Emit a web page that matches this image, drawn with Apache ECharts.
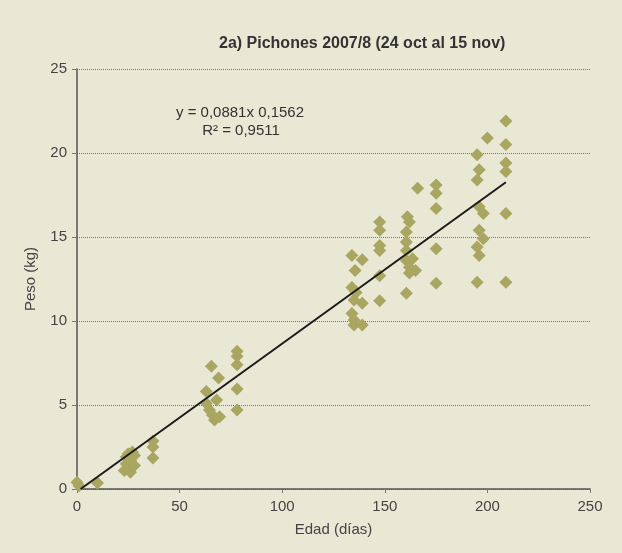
<!DOCTYPE html>
<html>
<head>
<meta charset="utf-8">
<script src="https://cdn.jsdelivr.net/npm/echarts@6/dist/echarts.min.js"></script>
<style>
html,body{margin:0;padding:0;background:#e9e8d5;}
#c{width:622px;height:553px;}
</style>
</head>
<body>
<div id="c"></div>
<script>
const titleText = '2a) Pichones 2007/8 (24 oct al 15 nov)';
const xName = 'Edad (días)';
const yName = 'Peso (kg)';
const eqLine1 = 'y = 0,0881x 0,1562';
const eqLine2 = 'R² = 0,9511';
const xTicks = [0, 50, 100, 150, 200, 250];
const yTicks = [0, 5, 10, 15, 20, 25];

const edad = [0,1,10,
  23,24,24,25,25,26,26,27,28,28,
  37,37,37,
  63,63,64.5,65.5,66,67,68,69,69.5,78,78,78,78,78,
  134,134,134,135,135,135.5,135,136,139,139,139,147.5,147.5,147.5,147.5,147.5,147.5,
  161,162,160.5,160.5,160.5,160.5,162,162,163.5,165,160.5,166,
  175,175,175,175,175,
  195,195,196,196,196,195,196,195,198,198,200,
  209,209,209,209,209,209];
const peso = [0.4,0.2,0.35,
  1.1,1.5,1.9,1.3,2.1,1.0,1.7,2.2,1.4,2.0,
  2.85,2.5,1.85,
  5.8,5.1,4.7,7.3,4.4,4.1,5.3,6.6,4.3,8.2,7.9,7.4,5.95,4.7,
  13.9,12.0,10.45,11.25,9.76,13.0,10.06,11.7,13.65,11.05,9.76,15.9,15.4,14.5,14.2,12.7,11.2,
  16.2,15.9,15.3,14.7,14.2,13.6,13.2,12.85,13.7,13.0,11.65,17.9,
  18.1,17.6,16.7,14.3,12.25,
  19.9,18.4,19.0,16.8,15.4,14.4,13.9,12.3,16.4,14.9,20.9,
  21.9,20.5,19.4,18.9,16.4,12.3];
const trendX = [1.77, 209];
const trendY = [0, 18.26];

const pts = edad.map((x, i) => [x, peso[i]]);
const trend = trendX.map((x, i) => [x, trendY[i]]);

const chart = echarts.init(document.getElementById('c'), null, {renderer: 'canvas'});
const font = 'Liberation Sans, Arial, sans-serif';
chart.setOption({
  backgroundColor: '#e9e8d5',
  animation: false,
  title: {
    text: titleText,
    left: 214, top: 31,
    textStyle: {fontFamily: font, fontSize: 16, fontWeight: 'bold', color: '#333'}
  },
  graphic: [
    {type: 'text', x: 240, y: 113, style: {text: eqLine1, fill: '#333', font: '15px ' + font, textAlign: 'center', textVerticalAlign: 'middle'}},
    {type: 'text', x: 241, y: 131, style: {text: eqLine2, fill: '#333', font: '15px ' + font, textAlign: 'center', textVerticalAlign: 'middle'}}
  ],
  grid: {left: 77, right: 32, top: 69, bottom: 64},
  xAxis: {
    type: 'value', min: xTicks[0], max: xTicks[xTicks.length-1], interval: 50,
    name: xName, nameLocation: 'middle', nameGap: 33,
    nameTextStyle: {fontFamily: font, fontSize: 15, color: '#444'},
    axisLine: {show: true, lineStyle: {color: '#555', width: 1.5}},
    axisTick: {show: true, length: 4, lineStyle: {color: '#777'}},
    axisLabel: {fontFamily: font, fontSize: 15, color: '#444', margin: 10},
    splitLine: {show: false}
  },
  yAxis: {
    type: 'value', min: yTicks[0], max: yTicks[yTicks.length-1], interval: 5,
    name: yName, nameLocation: 'middle', nameGap: 39, nameRotate: 90,
    nameTextStyle: {fontFamily: font, fontSize: 15, color: '#444'},
    axisLine: {show: true, lineStyle: {color: '#555', width: 1.5}},
    axisTick: {show: true, length: 5, lineStyle: {color: '#777'}},
    axisLabel: {fontFamily: font, fontSize: 15, color: '#444', margin: 10},
    splitLine: {show: true, lineStyle: {color: '#777', type: [1, 1], width: 1}}
  },
  series: [
    {
      type: 'scatter', data: pts, symbol: 'diamond', symbolSize: 13,
      itemStyle: {color: '#a9a661', opacity: 1}
    },
    {
      type: 'line', data: trend, symbol: 'none', z: 5,
      lineStyle: {color: '#1a1a1a', width: 2}
    }
  ]
});
</script>
</body>
</html>
